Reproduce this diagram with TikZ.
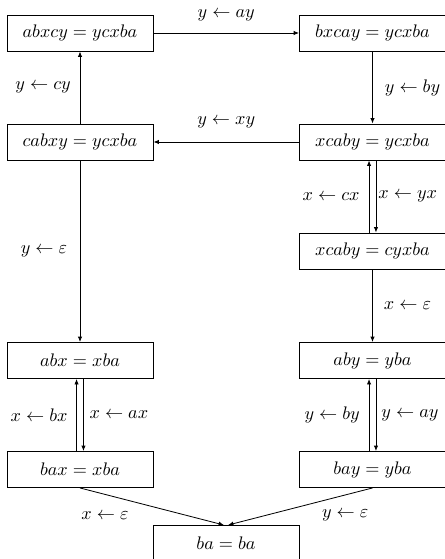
\documentclass[tikz,border=0pt]{standalone}
\usetikzlibrary{arrows.meta}
\begin{document}
\begin{tikzpicture}[x=0.55pt,y=-0.55pt,
  box/.style={draw,line width=0.5pt,minimum width=80.3pt,minimum height=19.8pt,inner sep=0pt},
  arr/.style={-{Latex[length=3pt,width=2.4pt]},line width=0.45pt},
  lbl/.style={midway,inner sep=0pt}]
\useasboundingbox (0,0) rectangle (444,559);
\node[box] (A1) at (80,33) {$abxcy = ycxba$};
\node[box] (B1) at (372.5,33) {$bxcay = ycxba$};
\node[box] (A2) at (80,142) {$cabxy = ycxba$};
\node[box] (B2) at (372.5,142) {$xcaby = ycxba$};
\node[box] (B3) at (372.5,251) {$xcaby = cyxba$};
\node[box] (A4) at (80,360.5) {$abx = xba$};
\node[box] (B4) at (372.5,360.5) {$aby = yba$};
\node[box] (A5) at (80,469.5) {$bax = xba$};
\node[box] (B5) at (372.5,469.5) {$bay = yba$};
\node[box] (C) at (226,543.5) {$ba = ba$};
% top row
\draw[arr] (A1) -- node[lbl,yshift=9.9pt] {$y \leftarrow ay$} (B1);
\draw[arr] (A2) -- node[lbl,xshift=-20.3pt] {$y \leftarrow cy$} (A1);
\draw[arr] (B1) -- node[lbl,xshift=22pt] {$y \leftarrow by$} (B2);
\draw[arr] (B2) -- node[lbl,yshift=11pt] {$y \leftarrow xy$} (A2);
% double right upper
\draw[arr] ([xshift=-1.9pt]B3.north) -- node[lbl,xshift=-20.9pt] {$x \leftarrow cx$} ([xshift=-1.9pt]B2.south);
\draw[arr] ([xshift=1.9pt]B2.south) -- node[lbl,xshift=17.5pt] {$x \leftarrow yx$} ([xshift=1.9pt]B3.north);
% long verticals
\draw[arr] (A2) -- node[lbl,xshift=-19.8pt] {$y \leftarrow \varepsilon$} (A4);
\draw[arr] (B3) -- node[lbl,xshift=19.2pt] {$x \leftarrow \varepsilon$} (B4);
% double left lower
\draw[arr] ([xshift=-1.9pt]A5.north) -- node[lbl,xshift=-20.6pt] {$x \leftarrow bx$} ([xshift=-1.9pt]A4.south);
\draw[arr] ([xshift=1.9pt]A4.south) -- node[lbl,xshift=19.5pt] {$x \leftarrow ax$} ([xshift=1.9pt]A5.north);
% double right lower
\draw[arr] ([xshift=-1.9pt]B5.north) -- node[lbl,xshift=-20.3pt] {$y \leftarrow by$} ([xshift=-1.9pt]B4.south);
\draw[arr] ([xshift=1.9pt]B4.south) -- node[lbl,xshift=18.7pt] {$y \leftarrow ay$} ([xshift=1.9pt]B5.north);
% to bottom
\draw[arr] (A5.south) -- node[lbl,xshift=-25.85pt,yshift=-4.95pt] {$x \leftarrow \varepsilon$} ([xshift=-1.1pt]C.north);
\draw[arr] (B5.south) -- node[lbl,xshift=24.75pt,yshift=-4.95pt] {$y \leftarrow \varepsilon$} ([xshift=1.1pt]C.north);
\end{tikzpicture}
\end{document}
